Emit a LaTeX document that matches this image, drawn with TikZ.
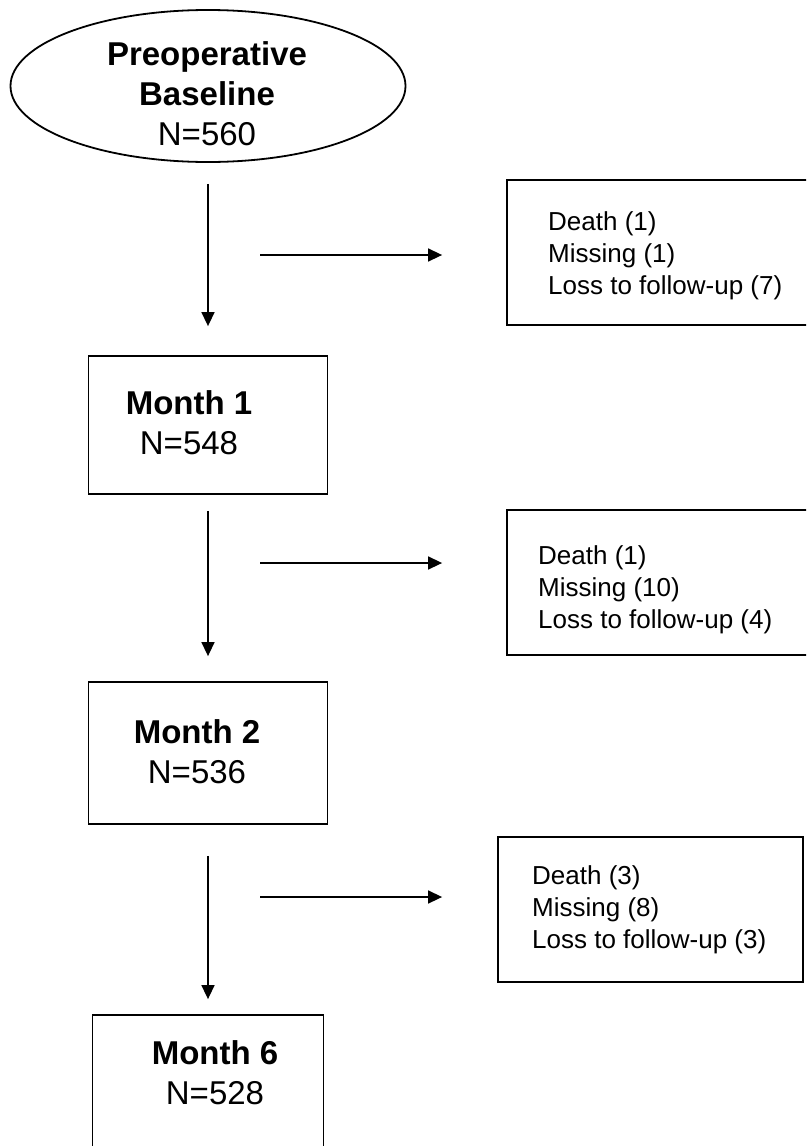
\documentclass[tikz,border=0pt]{standalone}
\usepackage{fontspec}
\setmainfont{Liberation Sans}
\usetikzlibrary{shapes.geometric, arrows.meta}

\tikzset{
  flow/.style={draw, line width=1.8pt},
  stage/.style={flow, rectangle, minimum width=239, minimum height=138},
  lost/.style={flow, rectangle, minimum height=145},
  stagetext/.style={align=center, inner sep=0, font=\fontsize{33}{40}\selectfont},
  losttext/.style={align=left, anchor=west, inner sep=0, font=\fontsize{26}{32}\selectfont},
  arr/.style={line width=1.5pt, -{Triangle[length=14pt, width=13pt]}}
}

\begin{document}
\begin{tikzpicture}[x=1pt, y=-1pt]
  \clip (0,0) rectangle (806,1146);
  % main column
  \node[flow, ellipse, minimum width=395, minimum height=152] (base) at (208,86) {};
  \node[stagetext] (baseText) at (207,94) {\textbf{Preoperative}\\\textbf{Baseline}\\N=560};
  \node[stage] (m1) at (208,425) {};
  \node[stagetext] (m1Text) at (189,423) {\textbf{Month 1}\\N=548};
  \node[stage, minimum height=142] (m2) at (208,753) {};
  \node[stagetext] (m2Text) at (197,752) {\textbf{Month 2}\\N=536};
  \node[stage, minimum width=231, minimum height=142] (m6) at (208,1086) {};
  \node[stagetext] (m6Text) at (215,1073) {\textbf{Month 6}\\N=528};
  % losses
  \node[lost, minimum width=323] (l1) at (668.5,252.5) {};
  \node[losttext] (l1Text) at (548,256) {Death (1)\\Missing (1)\\Loss to follow-up (7)};
  \node[lost, minimum width=323] (l2) at (668.5,582.5) {};
  \node[losttext] (l2Text) at (538,590) {Death (1)\\Missing (10)\\Loss to follow-up (4)};
  \node[lost, minimum width=305] (l3) at (650.5,909.5) {};
  \node[losttext] (l3Text) at (532,910) {Death (3)\\Missing (8)\\Loss to follow-up (3)};
  % arrows
  \draw[arr, shorten <=21, shorten >=29] (base) -- (m1);
  \draw[arr, shorten <=16, shorten >=25] (m1) -- (m2);
  \draw[arr, shorten <=31, shorten >=15] (m2) -- (m6);
  \coordinate (d1) at (260,255);
  \coordinate (d2) at (260,563);
  \coordinate (d3) at (260,897);
  \draw[arr, shorten >=64] (d1) -- (d1 -| l1.west);
  \draw[arr, shorten >=64] (d2) -- (d2 -| l2.west);
  \draw[arr, shorten >=55] (d3) -- (d3 -| l3.west);
\end{tikzpicture}
\end{document}
